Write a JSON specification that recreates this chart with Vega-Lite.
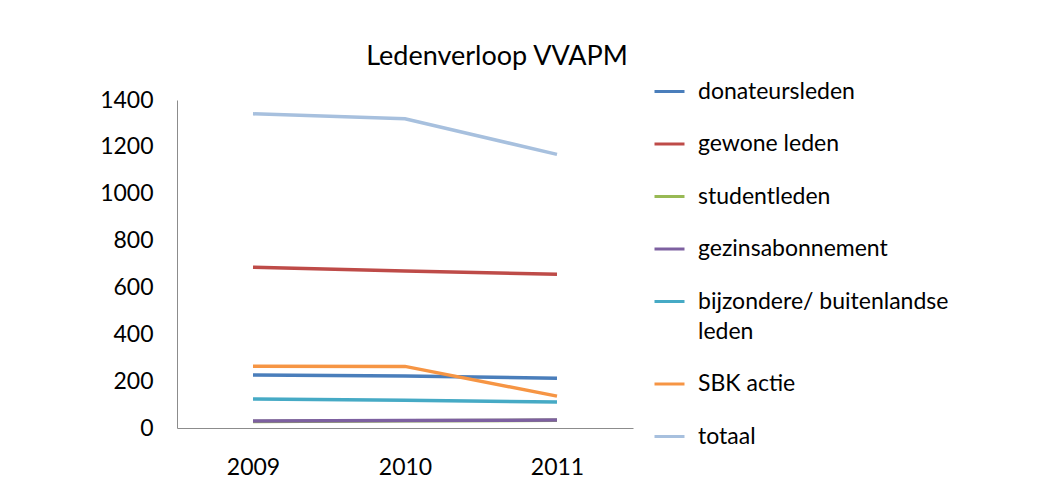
{
  "$schema": "https://vega.github.io/schema/vega-lite/v6.json",
  "width": 456,
  "height": 328,
  "autosize": {"type": "none"},
  "padding": {"left": 177, "top": 100, "right": 421, "bottom": 74},
  "background": "white",
  "title": {
    "text": "Ledenverloop VVAPM",
    "font": "Lato",
    "fontSize": 27,
    "fontWeight": "normal",
    "color": "#000000",
    "anchor": "middle",
    "dx": 92,
    "offset": 4
  },
  "config": {
    "view": {"stroke": null},
    "font": "Lato"
  },
  "data": {
    "values": [
      {"year": "2009", "series": "donateursleden", "value": 226},
      {"year": "2010", "series": "donateursleden", "value": 222},
      {"year": "2011", "series": "donateursleden", "value": 212},
      {"year": "2009", "series": "gewone leden", "value": 686},
      {"year": "2010", "series": "gewone leden", "value": 670},
      {"year": "2011", "series": "gewone leden", "value": 656},
      {"year": "2009", "series": "studentleden", "value": 28},
      {"year": "2010", "series": "studentleden", "value": 31},
      {"year": "2011", "series": "studentleden", "value": 33},
      {"year": "2009", "series": "gezinsabonnement", "value": 30},
      {"year": "2010", "series": "gezinsabonnement", "value": 32},
      {"year": "2011", "series": "gezinsabonnement", "value": 34},
      {"year": "2009", "series": "bijzondere/ buitenlandse leden", "value": 124},
      {"year": "2010", "series": "bijzondere/ buitenlandse leden", "value": 118},
      {"year": "2011", "series": "bijzondere/ buitenlandse leden", "value": 111},
      {"year": "2009", "series": "SBK actie", "value": 264},
      {"year": "2010", "series": "SBK actie", "value": 263},
      {"year": "2011", "series": "SBK actie", "value": 136},
      {"year": "2009", "series": "totaal", "value": 1341},
      {"year": "2010", "series": "totaal", "value": 1320},
      {"year": "2011", "series": "totaal", "value": 1168}
    ]
  },
  "mark": {"type": "line", "strokeWidth": 3.5},
  "encoding": {
    "x": {
      "field": "year",
      "type": "ordinal",
      "scale": {"type": "point", "padding": 0.5},
      "axis": {
        "title": null,
        "labelAngle": 0,
        "labelFont": "Lato",
        "labelFontSize": 23,
        "labelColor": "#000000",
        "labelPadding": 28,
        "ticks": false,
        "domainColor": "#8c8c8c",
        "domainWidth": 1,
        "grid": false
      }
    },
    "y": {
      "field": "value",
      "type": "quantitative",
      "scale": {"domain": [0, 1400], "nice": false},
      "axis": {
        "title": null,
        "format": "d",
        "values": [0, 200, 400, 600, 800, 1000, 1200, 1400],
        "labelFont": "Lato",
        "labelFontSize": 23,
        "labelColor": "#000000",
        "labelPadding": 24,
        "ticks": false,
        "domainColor": "#8c8c8c",
        "domainWidth": 1,
        "grid": false
      }
    },
    "color": {
      "field": "series",
      "type": "nominal",
      "scale": {
        "domain": ["donateursleden", "gewone leden", "studentleden", "gezinsabonnement", "bijzondere/ buitenlandse leden", "SBK actie", "totaal"],
        "range": ["#4a7ebb", "#be4b48", "#98b954", "#7d60a0", "#46aac5", "#f69544", "#a7c0de"]
      },
      "legend": {
        "title": null,
        "orient": "none",
        "legendX": 476,
        "legendY": -25,
        "symbolType": "stroke",
        "symbolSize": 900,
        "symbolStrokeWidth": 3,
        "labelFont": "Lato",
        "labelFontSize": 23,
        "labelColor": "#000000",
        "labelOffset": 12,
        "labelLimit": 400,
        "rowPadding": 23.5,
        "labelExpr": "datum.label == 'bijzondere/ buitenlandse leden' ? ['bijzondere/ buitenlandse', 'leden'] : datum.label",
        "encode": {
          "labels": {"update": {"lineHeight": {"value": 30}}}
        }
      }
    }
  }
}
